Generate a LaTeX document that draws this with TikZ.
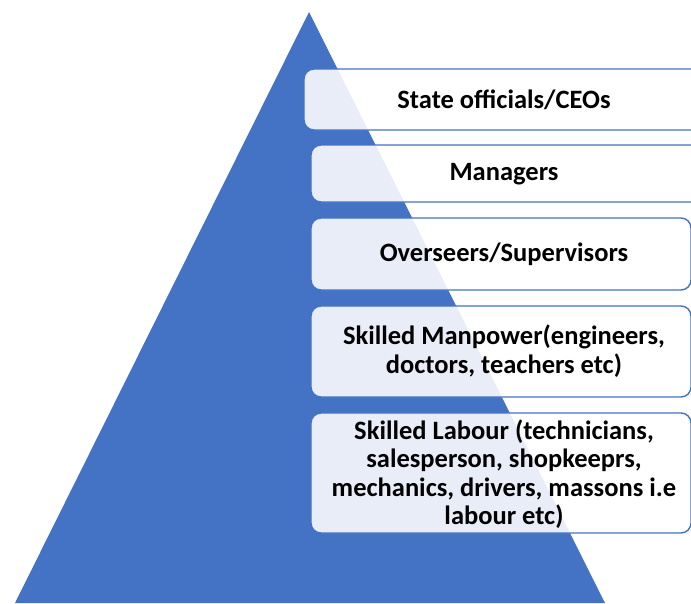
\documentclass[tikz,border=0pt]{standalone}
\usepackage{fontspec}
\setmainfont{Carlito}
\definecolor{pblue}{HTML}{4472C4}
\begin{document}
\begin{tikzpicture}[x=1pt,y=-1pt,
  tier/.style={draw=pblue,line width=1.4pt,fill=white,fill opacity=0.88,draw opacity=1,rounded corners=10pt},
  lbl/.style={font=\bfseries\fontsize{26.5}{28.5}\selectfont,align=center,text=black,text opacity=1}]
\useasboundingbox (0,0) rectangle (691,603);
\fill[pblue] (309,12) -- (605,603) -- (15,603) -- cycle;
\draw[tier] (304,69) rectangle (710,130);
\draw[tier] (311,145) rectangle (710,202);
\draw[tier] (311,218) rectangle (691,290);
\draw[tier] (311,306) rectangle (691,397);
\draw[tier] (311,413) rectangle (691,533);
\node[lbl] (t1) at (504,100) {State officials/CEOs};
\node[lbl] (t2) at (504,174) {Managers};
\node[lbl] (t3) at (504,254) {Overseers/Supervisors};
\node[lbl] (t4) at (504,351) {Skilled Manpower(engineers,\\doctors, teachers etc)};
\node[lbl] (t5) at (504,474) {Skilled Labour (technicians,\\salesperson, shopkeeprs,\\mechanics, drivers, massons i.e\\labour etc)};
\end{tikzpicture}
\end{document}
